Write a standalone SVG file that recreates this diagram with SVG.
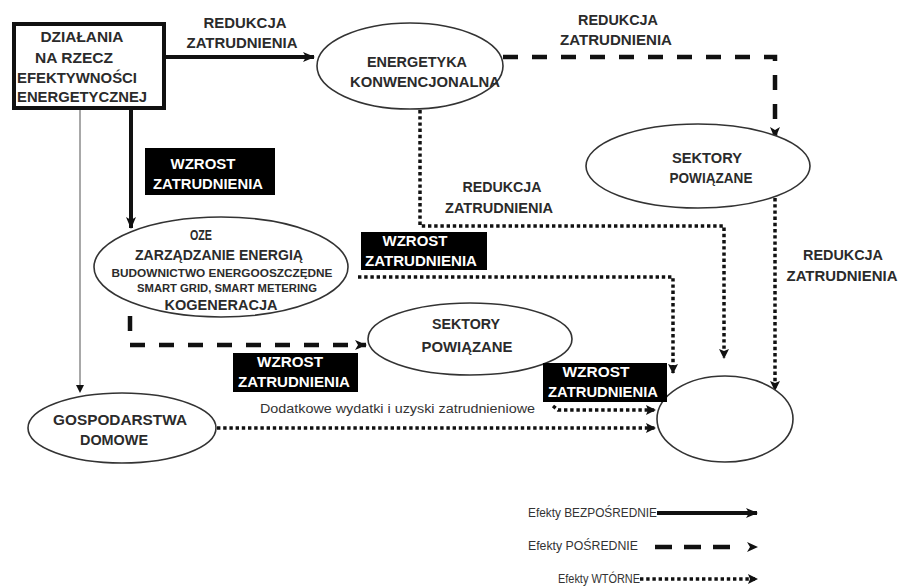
<svg xmlns="http://www.w3.org/2000/svg" width="903" height="586" viewBox="0 0 903 586">
  <defs>
    <style>
      .lbl { font-family: "Liberation Sans", Arial, sans-serif; font-weight: bold; font-size: 14px; fill: #2b2b2b; text-anchor: middle; }
      .sm { font-size: 10px; }
      .inv { fill: #ffffff; }
      .note { font-family: "Liberation Sans", Arial, sans-serif; font-size: 12px; fill: #333333; }
      .node { fill: #ffffff; stroke: #333333; stroke-width: 1.6; }
      .tag { fill: #000000; }
      .solid { fill: none; stroke: #111111; stroke-width: 4; }
      .dash { fill: none; stroke: #111111; stroke-width: 4.5; stroke-dasharray: 15 14; }
      .dot { fill: none; stroke: #111111; stroke-width: 3.5; stroke-dasharray: 3.4 2.8; }
      .thin { fill: none; stroke: #a8a8a8; stroke-width: 2; }
    </style>
    <marker id="headBig" viewBox="0 0 12 10" refX="11" refY="5" markerWidth="12" markerHeight="10" markerUnits="userSpaceOnUse" orient="auto">
      <path d="M0,0 L12,5 L0,10 L3,5 Z" fill="#111111"/>
    </marker>
    <marker id="headSmall" viewBox="0 0 10 10" refX="9" refY="5" markerWidth="10" markerHeight="10" markerUnits="userSpaceOnUse" orient="auto">
      <path d="M0,0 L10,5 L0,10 L2,5 Z" fill="#111111"/>
    </marker>
    <marker id="headTiny" viewBox="0 0 8 8" refX="7" refY="4" markerWidth="8" markerHeight="8" markerUnits="userSpaceOnUse" orient="auto">
      <path d="M0,0 L8,4 L0,8 Z" fill="#111111"/>
    </marker>
  </defs>

  <rect width="903" height="586" fill="#ffffff"/>

  <!-- connectors -->
  <g id="connectors">
    <path class="solid" d="M164,57 H314" marker-end="url(#headBig)"/>
    <path class="solid" d="M131,110 V228" marker-end="url(#headBig)"/>
    <path class="thin" d="M80,110 V388"/>
    <path d="M76,385 L84,385 L80,393 Z" fill="#111111"/>
    <path class="dash" d="M503,57 H775 V138" marker-end="url(#headBig)"/>
    <path class="dash" d="M130,316 V345 H366" marker-end="url(#headBig)"/>
    <path class="dot" d="M420,110 V226 H724 V358" marker-end="url(#headSmall)"/>
    <path class="dot" d="M358,277 H673 V373" marker-end="url(#headSmall)"/>
    <path class="dot" d="M775,198 V390" marker-end="url(#headSmall)"/>
    <path class="dot" d="M553,406 L558,410 H655" marker-end="url(#headSmall)"/>
    <path class="dot" d="M217,428 H655" marker-end="url(#headSmall)"/>
  </g>

  <!-- edge labels -->
  <g id="edge-labels">
    <text class="lbl" x="245" y="28" textLength="83" lengthAdjust="spacingAndGlyphs">REDUKCJA</text>
    <text class="lbl" x="242" y="48" textLength="111" lengthAdjust="spacingAndGlyphs">ZATRUDNIENIA</text>
    <text class="lbl" x="618" y="25" textLength="80" lengthAdjust="spacingAndGlyphs">REDUKCJA</text>
    <text class="lbl" x="616" y="45" textLength="112" lengthAdjust="spacingAndGlyphs">ZATRUDNIENIA</text>
    <text class="lbl" x="502" y="192" textLength="79" lengthAdjust="spacingAndGlyphs">REDUKCJA</text>
    <text class="lbl" x="499" y="213" textLength="108" lengthAdjust="spacingAndGlyphs">ZATRUDNIENIA</text>
    <text class="lbl" x="843" y="260" textLength="80" lengthAdjust="spacingAndGlyphs">REDUKCJA</text>
    <text class="lbl" x="842" y="281" textLength="111" lengthAdjust="spacingAndGlyphs">ZATRUDNIENIA</text>

    <rect class="tag" x="145" y="148" width="130" height="47"/>
    <text class="lbl inv" x="203" y="169" textLength="65" lengthAdjust="spacingAndGlyphs">WZROST</text>
    <text class="lbl inv" x="208" y="189" textLength="110" lengthAdjust="spacingAndGlyphs">ZATRUDNIENIA</text>

    <rect class="tag" x="361" y="232" width="126" height="38"/>
    <text class="lbl inv" x="415" y="246" textLength="65" lengthAdjust="spacingAndGlyphs">WZROST</text>
    <text class="lbl inv" x="421" y="266" textLength="112" lengthAdjust="spacingAndGlyphs">ZATRUDNIENIA</text>

    <rect class="tag" x="233" y="353" width="125" height="39"/>
    <text class="lbl inv" x="290" y="367" textLength="66" lengthAdjust="spacingAndGlyphs">WZROST</text>
    <text class="lbl inv" x="294" y="387" textLength="112" lengthAdjust="spacingAndGlyphs">ZATRUDNIENIA</text>

    <text class="note" x="260" y="413" textLength="275" lengthAdjust="spacingAndGlyphs">Dodatkowe wydatki i uzyski zatrudnieniowe</text>
  </g>

  <!-- nodes -->
  <g id="dzialania">
    <rect x="14" y="24" width="150" height="84" fill="#ffffff" stroke="#111111" stroke-width="4"/>
    <text class="lbl" x="82" y="42" textLength="83" lengthAdjust="spacingAndGlyphs">DZIAŁANIA</text>
    <text class="lbl" x="74" y="63" textLength="78" lengthAdjust="spacingAndGlyphs">NA RZECZ</text>
    <text class="lbl" x="17" y="83" textLength="120" lengthAdjust="spacingAndGlyphs" style="text-anchor:start">EFEKTYWNOŚCI</text>
    <text class="lbl" x="17" y="102" textLength="130" lengthAdjust="spacingAndGlyphs" style="text-anchor:start">ENERGETYCZNEJ</text>
  </g>

  <g id="energetyka">
    <ellipse class="node" cx="410" cy="66" rx="93" ry="43"/>
    <text class="lbl" x="417" y="67" textLength="100" lengthAdjust="spacingAndGlyphs">ENERGETYKA</text>
    <text class="lbl" x="425" y="87" textLength="150" lengthAdjust="spacingAndGlyphs">KONWENCJONALNA</text>
  </g>

  <g id="sektory-gora">
    <ellipse class="node" cx="698" cy="166" rx="112" ry="42"/>
    <text class="lbl" x="707" y="163" textLength="70" lengthAdjust="spacingAndGlyphs">SEKTORY</text>
    <text class="lbl" x="711" y="183" textLength="83" lengthAdjust="spacingAndGlyphs">POWIĄZANE</text>
  </g>

  <g id="oze">
    <ellipse class="node" cx="221" cy="267" rx="127" ry="50"/>
    <text class="lbl" x="201" y="240" textLength="22" lengthAdjust="spacingAndGlyphs">OZE</text>
    <text class="lbl" x="219" y="260" textLength="168" lengthAdjust="spacingAndGlyphs">ZARZĄDZANIE ENERGIĄ</text>
    <text class="lbl sm" x="222" y="277" textLength="221" lengthAdjust="spacingAndGlyphs">BUDOWNICTWO ENERGOOSZCZĘDNE</text>
    <text class="lbl sm" x="227" y="292" textLength="180" lengthAdjust="spacingAndGlyphs">SMART GRID, SMART METERING</text>
    <text class="lbl" x="221" y="310" textLength="113" lengthAdjust="spacingAndGlyphs">KOGENERACJA</text>
  </g>

  <g id="sektory-srodek">
    <ellipse class="node" cx="470" cy="339" rx="102" ry="36"/>
    <text class="lbl" x="466" y="329" textLength="68" lengthAdjust="spacingAndGlyphs">SEKTORY</text>
    <text class="lbl" x="467" y="352" textLength="91" lengthAdjust="spacingAndGlyphs">POWIĄZANE</text>
  </g>

  <g id="gospodarstwa">
    <ellipse class="node" cx="122" cy="428" rx="94" ry="35"/>
    <text class="lbl" x="120" y="425" textLength="134" lengthAdjust="spacingAndGlyphs">GOSPODARSTWA</text>
    <text class="lbl" x="114" y="445" textLength="68" lengthAdjust="spacingAndGlyphs">DOMOWE</text>
  </g>

  <g id="zatrudnienie">
    <ellipse class="node" cx="725" cy="419" rx="68" ry="43"/>
  </g>

  <g id="wzrost-4">
    <rect class="tag" x="543" y="363" width="124" height="39"/>
    <text class="lbl inv" x="596" y="377" textLength="67" lengthAdjust="spacingAndGlyphs">WZROST</text>
    <text class="lbl inv" x="603" y="397" textLength="110" lengthAdjust="spacingAndGlyphs">ZATRUDNIENIA</text>
  </g>

  <!-- key -->
  <g id="legend">
    <text class="note" x="528" y="517" textLength="129" lengthAdjust="spacingAndGlyphs">Efekty BEZPOŚREDNIE</text>
    <path class="solid" d="M657,513 H757" marker-end="url(#headBig)"/>
    <text class="note" x="528" y="550" textLength="110" lengthAdjust="spacingAndGlyphs">Efekty POŚREDNIE</text>
    <path fill="none" stroke="#111111" stroke-width="4.5" stroke-dasharray="17 12" d="M655,547 H730"/>
    <path d="M747,542 L758,547 L747,552 L750,547 Z" fill="#111111"/>
    <text class="note" x="558" y="583" textLength="82" lengthAdjust="spacingAndGlyphs">Efekty WTÓRNE</text>
    <path class="dot" d="M640,579 H757" marker-end="url(#headSmall)"/>
  </g>
</svg>
